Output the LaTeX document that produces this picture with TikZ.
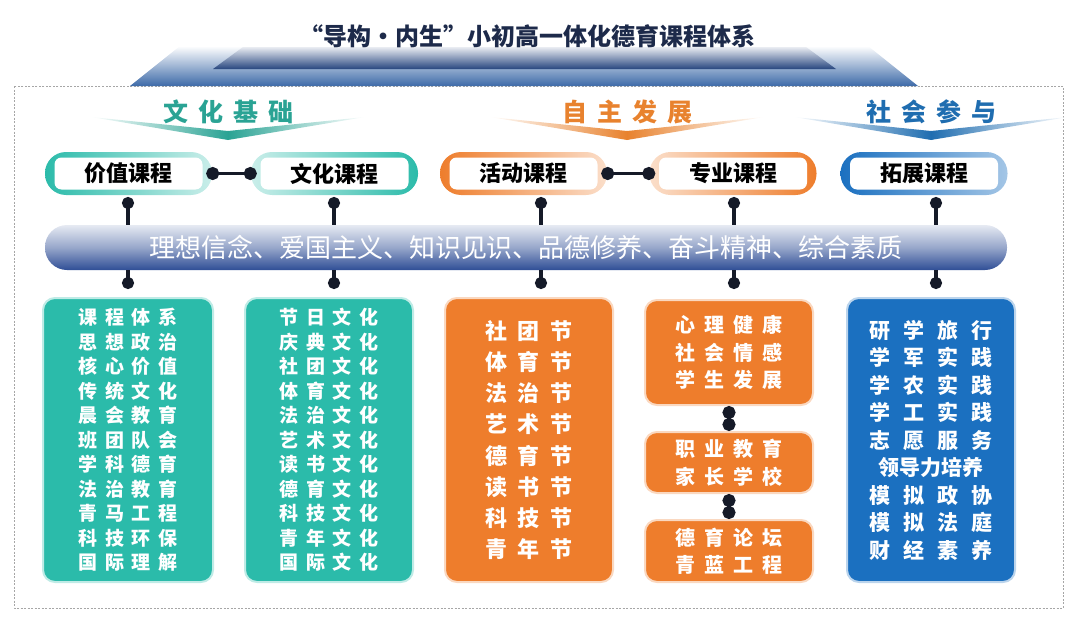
\documentclass[tikz,border=0pt]{standalone}
\usepackage{fontspec}
\usetikzlibrary{arrows.meta}
\newfontfamily\cjk{Noto Sans CJK SC}
\definecolor{tealc}{HTML}{2BBBAA}
\definecolor{tealh}{HTML}{2AA394}
\definecolor{orangec}{HTML}{EE7D2C}
\definecolor{orangeh}{HTML}{E8822E}
\definecolor{bluec}{HTML}{1B70C0}
\definecolor{blueh}{HTML}{1F6DB0}
\definecolor{bandc}{HTML}{2F4E96}
\definecolor{bannerc}{HTML}{3D6AA8}
\definecolor{bannerd}{HTML}{27467F}
\definecolor{titlec}{HTML}{1D2A4A}
\definecolor{dotc}{HTML}{151A28}

\begin{document}
\begin{tikzpicture}[x=1pt,y=-1pt,every node/.style={font=\cjk},
    pillbg/.style={rounded corners=21pt,minimum width=167pt,minimum height=43pt,inner sep=0pt},
    pill/.style={fill=white,rounded corners=7pt,minimum width=148pt,minimum height=32pt,inner sep=0pt,
        font={\cjk\bfseries\fontsize{22}{24}\selectfont}},
    card/.style={rounded corners=12pt,text=white,align=center,inner sep=0pt,line width=2pt},
    link/.style={line width=3.5pt,dotc,{Circle[length=13pt]}-{Circle[length=13pt]}},
    stem/.style={line width=3.5pt,dotc,-{Circle[length=12pt]}},
    tealtxt/.style={font={\cjk\bfseries\fontsize{19}{24.5}\selectfont\spaceskip=7.7pt\relax}},
    bigtxt/.style={font={\cjk\bfseries\fontsize{22}{31.2}\selectfont\spaceskip=10.5pt\relax}},
    midtxt/.style={font={\cjk\bfseries\fontsize{20}{27.5}\selectfont\spaceskip=9pt\relax}},
    bluetxt/.style={font={\cjk\bfseries\fontsize{21}{27.5}\selectfont\spaceskip=13pt\relax}}]
    \useasboundingbox (0,0) rectangle (1080,629);
    \draw[gray!70,dash pattern=on 2pt off 1.5pt] (14,86) rectangle (1063,608);
    \shade[top color=white,bottom color=bannerc] (130,86) -- (180,46) -- (868,46) -- (918,86) -- cycle;
    \shade[top color=bannerd!10,bottom color=bannerd] (213,69) -- (243,47) -- (806,47) -- (836,69) -- cycle;
    \node[font={\cjk\bfseries\fontsize{24}{26}\selectfont},text=titlec] (title) at (527,36) {“导构·内生”小初高一体化德育课程体系};
    \foreach \x/\c/\t in {228/tealh/文 化 基 础,627/orangeh/自 主 发 展,931/blueh/社 会 参 与} {
        \shade[left color=white,right color=white,middle color=\c] ({\x-137},117) -- (\x,131) -- ({\x+137},117) -- (\x,140) -- cycle;
        \node[font={\cjk\bfseries\fontsize{25}{28}\selectfont\spaceskip=10pt\relax},text=\c] (head\x) at (\x,112) {\t};
    }
    \foreach \n/\x/\l/\r/\t in {jz/128.5/tealc/tealc!25/价值课程,wh/334.5/tealc!25/tealc/文化课程,
        hd/523.5/orangec/orangec!25/活动课程,zy/733/orangec!25/orangec/专业课程,tz/924/bluec/bluec!40/拓展课程} {
        \node[pillbg,left color=\l,right color=\r] (bg\n) at (\x,173.5) {};
        \node[pill] (\n) at (\x,173.5) {\t};
    }
    \draw[link,shorten <=-6pt,shorten >=-6pt] (bgjz.east) -- (bgwh.west);
    \draw[link,shorten <=-6pt,shorten >=-6pt] (bghd.east) -- (bgzy.west);
    \node[rounded corners=22pt,minimum width=962pt,minimum height=45pt,inner sep=0pt,
        top color=bandc!12,bottom color=bandc,middle color=bandc!50,text=white,
        font={\cjk\fontsize{26}{28}\selectfont}] (band) at (526,247.5)
        {理想信念、爱国主义、知识见识、品德修养、奋斗精神、综合素质};
    \foreach \i/\x in {1/128,2/334,3/541,4/734,5/936} {
        \coordinate (t\i) at (\x,197);
        \coordinate (b\i) at (\x,289);
        \draw[stem] (t\i |- band.north) -- (t\i);
        \draw[stem] (b\i |- band.south) -- (b\i);
    }
    \node[card,tealtxt,fill=tealc,draw=tealc!30,minimum width=170pt,minimum height=284pt] (k1) at (128,440)
        {课 程 体 系\\思 想 政 治\\核 心 价 值\\传 统 文 化\\晨 会 教 育\\班 团 队 会\\学 科 德 育\\法 治 教 育\\青 马 工 程\\科 技 环 保\\国 际 理 解};
    \node[card,tealtxt,fill=tealc,draw=tealc!30,minimum width=168pt,minimum height=284pt] (k2) at (329,440)
        {节 日 文 化\\庆 典 文 化\\社 团 文 化\\体 育 文 化\\法 治 文 化\\艺 术 文 化\\读 书 文 化\\德 育 文 化\\科 技 文 化\\青 年 文 化\\国 际 文 化};
    \node[card,bigtxt,fill=orangec,draw=orangec!30,minimum width=168pt,minimum height=284pt] (k3) at (529,440)
        {社 团 节\\体 育 节\\法 治 节\\艺 术 节\\德 育 节\\读 书 节\\科 技 节\\青 年 节};
    \node[card,midtxt,fill=orangec,draw=orangec!30,minimum width=168pt,minimum height=105pt] (k4) at (729,352.5)
        {心 理 健 康\\社 会 情 感\\学 生 发 展};
    \node[card,midtxt,fill=orangec,draw=orangec!30,minimum width=168pt,minimum height=61pt] (k5) at (729,462.5)
        {职 业 教 育\\家 长 学 校};
    \node[card,midtxt,fill=orangec,draw=orangec!30,minimum width=168pt,minimum height=62pt] (k6) at (729,551)
        {德 育 论 坛\\青 蓝 工 程};
    \node[card,bluetxt,fill=bluec,draw=bluec!30,minimum width=168pt,minimum height=284pt] (k7) at (931,440)
        {研 学 旅 行\\学 军 实 践\\学 农 实 践\\学 工 实 践\\志 愿 服 务\\领导力培养\\模 拟 政 协\\模 拟 法 庭\\财 经 素 养};
    \draw[link] (k4.south) -- (k5.north);
    \draw[link] (k5.south) -- (k6.north);
\end{tikzpicture}
\end{document}
